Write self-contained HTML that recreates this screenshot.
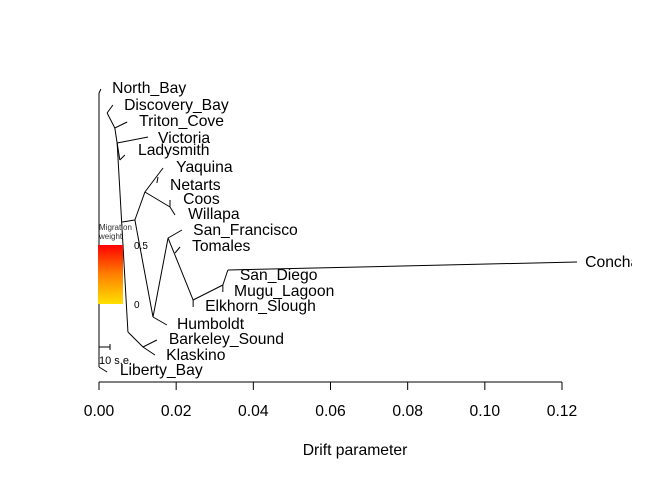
<!DOCTYPE html>
<html><head><meta charset="utf-8"><style>
body{margin:0;background:#fff;}
svg{display:block;font-family:"Liberation Sans",Arial,sans-serif;}
</style></head><body>
<svg id="chart" width="672" height="480" viewBox="0 0 672 480">
<defs><linearGradient id="mg" x1="0" y1="0" x2="0" y2="1"><stop offset="0" stop-color="#ff0000"/><stop offset="0.5" stop-color="#ff8000"/><stop offset="1" stop-color="#ffe000"/></linearGradient>
<clipPath id="clip"><rect x="0" y="0" width="632" height="480"/></clipPath></defs>
<g id="tree" clip-path="url(#clip)"></g>
<g id="axis"></g>
<g>
<text x="99" y="230" font-size="8" fill="#333">Migration</text>
<text x="99" y="239" font-size="8" fill="#333">weight</text>
<rect x="98" y="245" width="25" height="59" fill="url(#mg)"/>
<text x="134" y="249" font-size="10" fill="#000">0.5</text>
<text x="134" y="308" font-size="10" fill="#000">0</text>
</g>
<g>
<line x1="99" y1="347" x2="110" y2="347" stroke="#000"/><line x1="99" y1="344" x2="99" y2="350" stroke="#000"/><line x1="110" y1="344" x2="110" y2="350" stroke="#000"/>
<text x="99" y="364" font-size="11">10 s.e.</text>
</g>
<text x="355" y="455" font-size="15.7" text-anchor="middle">Drift parameter</text>
</svg>
<script>
const edgeX1=[0,0,0,.0021,.0021,.0041,.0041,.0047,.0047,.0054,.0047,.0060,.0093,.0119,.0153,.0119,.0184,.0184,.0093,.0140,.0140,.0179,.0197,.0179,.0244,.0244,.0321,.0321,.0334,.0075,.0114,.0114];
const edgeY1=[287,287,13,267,267,252,252,237,237,220,237,158,160,188,203,188,173,180,160,63,63,142,127,142,80,80,95,95,110,48,33,33];
const edgeX2=[0,.0005,.0021,.0036,.0041,.0073,.0047,.0127,.0054,.0067,.0075,.0093,.0119,.0166,.0150,.0184,.0197,.0184,.0140,.0176,.0179,.0215,.0210,.0244,.0244,.0321,.0321,.0334,.1239,.0114,.0150,.0145];
const edgeY2=[13,291,8,275,252,258,237,243,220,225,48,160,188,212,197,173,165,173,63,55,142,150,133,80,73,95,88,110,118,33,40,25];
const leafNames=["North_Bay","Discovery_Bay","Triton_Cove","Victoria","Ladysmith","Yaquina","Netarts","Coos","Willapa","San_Francisco","Tomales","San_Diego","Mugu_Lagoon","Elkhorn_Slough","Humboldt","Barkeley_Sound","Klaskino","Liberty_Bay","Conchas"];
const leafX=[.0034,.0065,.0104,.0153,.0101,.0200,.0184,.0218,.0231,.0244,.0241,.0365,.0350,.0275,.0202,.0181,.0174,.0054,.1260];
const leafY=[292,275,259,242,230,213,195,181,166,150,134,105,89,74,56,41,25,10,118];
const xTicks=[0,0.02,0.04,0.06,0.08,0.10,0.12];
const xTickLabels=["0.00","0.02","0.04","0.06","0.08","0.10","0.12"];
const xs=v=>99+v*(463/0.12);
const ys=v=>380-v;
const NS="http://www.w3.org/2000/svg";
const tree=document.getElementById('tree'),axis=document.getElementById('axis');
for(let i=0;i<edgeX1.length;i++){
 const l=document.createElementNS(NS,'line');
 l.setAttribute('x1',xs(edgeX1[i]));l.setAttribute('y1',ys(edgeY1[i]));
 l.setAttribute('x2',xs(edgeX2[i]));l.setAttribute('y2',ys(edgeY2[i]));
 l.setAttribute('stroke','#000');l.setAttribute('stroke-width','1');
 
 
 tree.appendChild(l);
}
for(let i=0;i<leafNames.length;i++){
 const t=document.createElementNS(NS,'text');
 t.setAttribute('x',xs(leafX[i]));t.setAttribute('y',ys(leafY[i])+5);
 t.setAttribute('font-size','15.7');t.textContent=leafNames[i];
 
 
 tree.appendChild(t);
}
const al=document.createElementNS(NS,'line');
al.setAttribute('x1',xs(xTicks[0]));al.setAttribute('x2',xs(xTicks[xTicks.length-1]));al.setAttribute('y1',382);al.setAttribute('y2',382);al.setAttribute('stroke','#000');


axis.appendChild(al);
for(let i=0;i<xTicks.length;i++){
 const tk=document.createElementNS(NS,'line');
 tk.setAttribute('x1',xs(xTicks[i]));tk.setAttribute('x2',xs(xTicks[i]));tk.setAttribute('y1',382);tk.setAttribute('y2',390);tk.setAttribute('stroke','#000');
 
 
 axis.appendChild(tk);
 const tl=document.createElementNS(NS,'text');
 tl.setAttribute('x',xs(xTicks[i]));tl.setAttribute('y',416);tl.setAttribute('font-size','15.7');tl.setAttribute('text-anchor','middle');
 tl.textContent=xTickLabels[i];
 
 
 axis.appendChild(tl);
}
</script>
</body></html>
